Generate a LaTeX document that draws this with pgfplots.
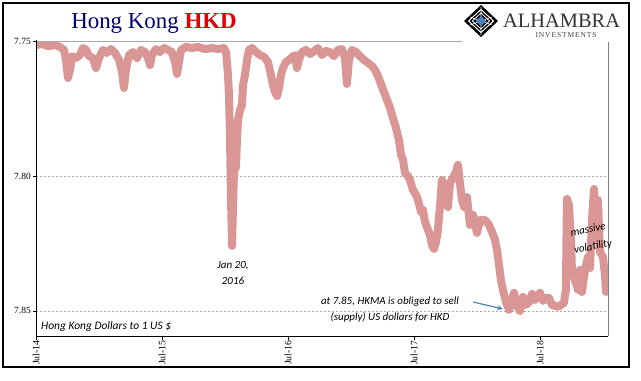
\documentclass[border=0pt]{standalone}
\usepackage{fontspec}
\setmainfont{Liberation Serif}
\newfontfamily\calibri{Carlito}
\usepackage{pgfplots}
\pgfplotsset{compat=1.18}
\usetikzlibrary{arrows.meta}
\definecolor{hkline}{RGB}{217,150,148}
\definecolor{navy}{RGB}{0,0,112}
\definecolor{hkred}{RGB}{228,0,0}
\definecolor{arrowblue}{RGB}{79,129,189}
\definecolor{gridgray}{RGB}{170,170,170}
\begin{document}
\begin{tikzpicture}
\useasboundingbox (0,0) rectangle (641bp,-381bp);
\begin{axis}[at={(36bp,-336bp)}, anchor=south west, scale only axis,
  width=572bp, height=295bp,
  xmin=2014.5, xmax=2019.04, ymin=7.75, ymax=7.8593, y dir=reverse,
  axis line style={draw=none},
  xtick={2014.5,2015.5,2016.5,2017.5,2018.5},
  xticklabels={Jul-14,Jul-15,Jul-16,Jul-17,Jul-18},
  ytick={7.75,7.80,7.85}, yticklabels={7.75,7.80,7.85},
  tick align=outside, major tick length=3.5bp, tick style={black, line width=0.6bp},
  xtick pos=bottom, ytick pos=left,
  xticklabel style={rotate=90, anchor=east, font=\fontsize{9.8}{9.8}\selectfont, inner sep=0.8bp},
  yticklabel style={font=\fontsize{9.5}{9.5}\selectfont, inner sep=1.5bp},
  ymajorgrids, grid style={gridgray, dash pattern=on 2bp off 2bp, line width=0.6bp},
  clip=true,
]
\addplot[hkline, line width=8bp, line join=round, line cap=round] coordinates {
(2014.500,7.7515) (2014.548,7.7511) (2014.595,7.7519) (2014.651,7.7515) (2014.690,7.7522)
(2014.722,7.7533) (2014.738,7.7570) (2014.754,7.7637) (2014.770,7.7607) (2014.786,7.7556)
(2014.817,7.7563) (2014.849,7.7552) (2014.873,7.7526) (2014.897,7.7533) (2014.921,7.7556)
(2014.952,7.7563) (2014.976,7.7600) (2015.000,7.7563) (2015.032,7.7533) (2015.063,7.7544)
(2015.095,7.7530) (2015.127,7.7544) (2015.159,7.7570) (2015.183,7.7615) (2015.198,7.7674)
(2015.214,7.7607) (2015.238,7.7552) (2015.270,7.7541) (2015.302,7.7563) (2015.333,7.7533)
(2015.365,7.7541) (2015.389,7.7563) (2015.405,7.7589) (2015.421,7.7552) (2015.452,7.7530)
(2015.484,7.7541) (2015.516,7.7526) (2015.548,7.7533) (2015.579,7.7541) (2015.603,7.7578)
(2015.619,7.7622) (2015.635,7.7578) (2015.651,7.7533) (2015.690,7.7522) (2015.738,7.7526)
(2015.786,7.7522) (2015.841,7.7530) (2015.897,7.7526) (2015.944,7.7530) (2015.992,7.7526)
(2016.008,7.7541) (2016.016,7.7578) (2016.024,7.7626) (2016.032,7.7700) (2016.040,7.7867)
(2016.048,7.8089) (2016.056,7.8259) (2016.063,7.8126) (2016.071,7.7996) (2016.079,7.7941)
(2016.087,7.7970) (2016.095,7.7867) (2016.103,7.7793) (2016.119,7.7756) (2016.135,7.7737)
(2016.143,7.7663) (2016.159,7.7626) (2016.175,7.7570) (2016.190,7.7533) (2016.214,7.7526)
(2016.246,7.7541) (2016.278,7.7552) (2016.310,7.7559) (2016.341,7.7578) (2016.365,7.7626)
(2016.381,7.7663) (2016.397,7.7689) (2016.413,7.7704) (2016.429,7.7674) (2016.444,7.7626)
(2016.460,7.7600) (2016.484,7.7578) (2016.508,7.7570) (2016.532,7.7559) (2016.556,7.7552)
(2016.571,7.7600) (2016.587,7.7570) (2016.611,7.7541) (2016.643,7.7533) (2016.675,7.7548)
(2016.698,7.7541) (2016.738,7.7526) (2016.770,7.7552) (2016.802,7.7537) (2016.833,7.7541)
(2016.865,7.7556) (2016.897,7.7533) (2016.929,7.7530) (2016.952,7.7563) (2016.968,7.7659)
(2016.984,7.7570) (2017.008,7.7533) (2017.040,7.7541) (2017.071,7.7556) (2017.103,7.7570)
(2017.135,7.7581) (2017.167,7.7593) (2017.190,7.7607) (2017.214,7.7630) (2017.238,7.7659)
(2017.262,7.7689) (2017.286,7.7719) (2017.310,7.7748) (2017.333,7.7785) (2017.357,7.7822)
(2017.381,7.7867) (2017.397,7.7922) (2017.413,7.7941) (2017.429,7.7989) (2017.452,7.8000)
(2017.468,7.8015) (2017.492,7.8052) (2017.516,7.8070) (2017.532,7.8089) (2017.556,7.8133)
(2017.571,7.8126) (2017.587,7.8170) (2017.603,7.8189) (2017.627,7.8219) (2017.643,7.8256)
(2017.659,7.8270) (2017.675,7.8244) (2017.690,7.8200) (2017.706,7.8115) (2017.722,7.8015)
(2017.738,7.8044) (2017.754,7.8089) (2017.770,7.8115) (2017.786,7.8026) (2017.810,7.8007)
(2017.833,7.7985) (2017.849,7.7959) (2017.865,7.8026) (2017.881,7.8089) (2017.897,7.8115)
(2017.921,7.8078) (2017.944,7.8181) (2017.968,7.8144) (2018.000,7.8211) (2018.024,7.8163)
(2018.063,7.8163) (2018.095,7.8181) (2018.119,7.8207) (2018.143,7.8237) (2018.159,7.8274)
(2018.175,7.8330) (2018.190,7.8385) (2018.206,7.8422) (2018.230,7.8467) (2018.254,7.8496)
(2018.278,7.8459) (2018.294,7.8433) (2018.317,7.8481) (2018.341,7.8500) (2018.365,7.8448)
(2018.389,7.8478) (2018.413,7.8467) (2018.437,7.8437) (2018.460,7.8459) (2018.476,7.8448)
(2018.500,7.8433) (2018.524,7.8463) (2018.548,7.8452) (2018.571,7.8452) (2018.595,7.8478)
(2018.619,7.8481) (2018.643,7.8485) (2018.667,7.8478) (2018.690,7.8470) (2018.706,7.8422)
(2018.714,7.8085) (2018.730,7.8107) (2018.746,7.8237) (2018.754,7.8348) (2018.778,7.8385)
(2018.802,7.8422) (2018.817,7.8348) (2018.833,7.8430) (2018.857,7.8348) (2018.881,7.8300)
(2018.897,7.8341) (2018.913,7.8163) (2018.929,7.8048) (2018.944,7.8181) (2018.960,7.8089)
(2018.976,7.8281) (2019.000,7.8300) (2019.016,7.8367) (2019.024,7.8430)
};
\end{axis}
\begin{scope}[x=1bp,y=-1bp]
% axis frame lines
\draw[gridgray, line width=0.8bp] (36,41) -- (608,41);
\draw[gray, line width=0.8bp] (608,41) -- (608,336);
\draw[black, line width=0.8bp] (36,40) -- (36,336) -- (608,336);
% logo area
\fill[white] (462,4) rectangle (627,42);
\fill[black] (464,21) -- (481,5) -- (498,21) -- (481,37) -- cycle;
\draw[white, line width=1bp] (468.5,21) -- (481,9.5) -- (493.5,21) -- (481,32.5) -- cycle;
\draw[white, line width=0.8bp] (472.5,21) -- (481,13) -- (489.5,21) -- (481,29) -- cycle;
\draw[white, line width=0.6bp] (470,17) -- (492,25) (470,25) -- (492,17) (481,7) -- (481,35);
\fill[arrowblue] (475.5,21) -- (481,16) -- (486.5,21) -- (481,26) -- cycle;
\node[anchor=west, inner sep=0, text=black!80, font=\fontsize{20.5}{20.5}\selectfont] at (503,21) {ALHAMBRA};
\node[inner sep=0, text=black!75, font=\fontsize{7.5}{7.5}\selectfont\addfontfeature{LetterSpace=12}] at (566,35) {INVESTMENTS};
% title
\node[inner sep=0, font=\fontsize{23}{23}\selectfont] at (154,23) {\textcolor{navy}{Hong Kong} \textcolor{hkred}{\textbf{HKD}}};
% annotations
\node[anchor=west, inner sep=0, font=\calibri\itshape\fontsize{11.5}{12}\selectfont] at (41,327) {Hong Kong Dollars to 1 US \$};
\node[align=center, inner sep=0, font=\calibri\itshape\fontsize{11}{16}\selectfont] at (233,273) {Jan 20,\\2016};
\node[align=center, inner sep=0, font=\calibri\itshape\fontsize{11}{16}\selectfont] at (390,310) {at 7.85, HKMA is obliged to sell\\(supply) US dollars for HKD};
\draw[arrowblue, line width=1.2bp, -{Stealth[length=6bp,width=5bp]}] (473,302) -- (503,309);
\node[inner sep=0, rotate=11, font=\calibri\itshape\fontsize{11}{13}\selectfont] at (588,229) {massive};
\node[inner sep=0, rotate=11, font=\calibri\itshape\fontsize{11}{13}\selectfont] at (593,247) {volatility};
% outer frame
\draw[black, line width=1.3bp] (3,3) rectangle (629,367);
\end{scope}
\end{tikzpicture}
\end{document}
